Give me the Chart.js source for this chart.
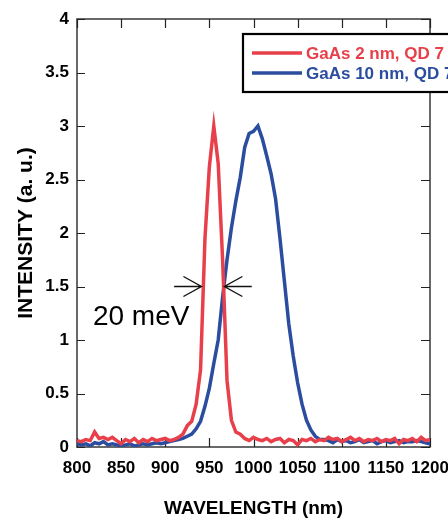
<!DOCTYPE html>
<html>
<head>
<meta charset="utf-8">
<script src="https://cdn.jsdelivr.net/npm/chart.js@4/dist/chart.umd.min.js"></script>
<style>
  html, body { margin: 0; padding: 0; background: #fff; }
  #wrap { width: 448px; height: 522px; }
</style>
</head>
<body>
<div id="wrap"><canvas id="c" width="448" height="522"></canvas></div>
<script>
// ---- data ----
const wavelength = [];
for (let w = 800; w <= 1200; w += 5) wavelength.push(w);

const seriesLabels = ["GaAs 2 nm, QD 7 s", "GaAs 10 nm, QD 7 s"];

const red2nm = [
  0.06, 0.05, 0.07, 0.06, 0.14, 0.08, 0.09, 0.07, 0.09, 0.06,
  0.03, 0.07, 0.05, 0.08, 0.04, 0.07, 0.05, 0.08, 0.06, 0.07,
  0.08, 0.06, 0.07, 0.09, 0.12, 0.20, 0.24, 0.40, 0.72, 1.95,
  2.62, 3.00, 2.65, 1.75, 0.62, 0.25, 0.14, 0.12, 0.08, 0.06,
  0.09, 0.07, 0.06, 0.08, 0.05, 0.07, 0.08, 0.04, 0.07, 0.06,
  0.02, 0.07, 0.06, 0.08, 0.05, 0.07, 0.06, 0.09, 0.07, 0.08,
  0.05, 0.07, 0.09, 0.06, 0.08, 0.05, 0.07, 0.06, 0.08, 0.05,
  0.07, 0.06, 0.08, 0.03, 0.07, 0.06, 0.08, 0.05, 0.09, 0.06,
  0.07
];

const blue10nm = [
  0.03, 0.02, 0.03, 0.01, 0.04, 0.03, 0.05, 0.02, 0.03, 0.02,
  0.01, 0.02, 0.03, 0.01, 0.02, 0.03, 0.02, 0.03, 0.04, 0.03,
  0.04, 0.05, 0.06, 0.07, 0.08, 0.10, 0.12, 0.17, 0.24, 0.38,
  0.55, 0.78, 1.00, 1.40, 1.75, 2.05, 2.30, 2.52, 2.80, 2.93,
  2.95, 3.00, 2.88, 2.72, 2.55, 2.32, 1.95, 1.55, 1.15, 0.85,
  0.60, 0.40, 0.25, 0.16, 0.10, 0.07, 0.07, 0.06, 0.04, 0.07,
  0.05, 0.06, 0.04, 0.05, 0.07, 0.04, 0.05, 0.06, 0.03, 0.05,
  0.06, 0.04, 0.05, 0.06, 0.04, 0.05, 0.05, 0.06, 0.05, 0.04,
  0.03
];

const xTicks = [800, 850, 900, 950, 1000, 1050, 1100, 1150, 1200];
const yTicks = [0, 0.5, 1, 1.5, 2, 2.5, 3, 3.5, 4];

const annotationText = "20 meV";
const fwhmLevel = 1.5;
const fwhmLeft = [910, 941];   // arrow tail -> head (nm)
const fwhmRight = [998, 967];  // arrow tail -> head (nm)
const textAnchor = [818, 1.14];

// ---- styles ----
const RED = "#e8404a";
const BLUE = "#2b4d9f";
const FONT = "'Liberation Sans', Arial, sans-serif";

const pts = (ys) => wavelength.map((x, i) => ({x, y: ys[i]}));

const framePlugin = {
  id: "frame",
  beforeDatasetsDraw(chart) {
    const {ctx, chartArea: a, scales: {x, y}} = chart;
    ctx.save();
    ctx.strokeStyle = "#444";
    ctx.lineWidth = 1.6;
    ctx.strokeRect(a.left, a.top, a.right - a.left, a.bottom - a.top);
    ctx.strokeStyle = "#222";
    ctx.lineWidth = 1.2;
    ctx.beginPath();
    xTicks.forEach(v => {
      const px = Math.round(x.getPixelForValue(v)) + 0.5;
      ctx.moveTo(px, a.bottom); ctx.lineTo(px, a.bottom - 9);
      ctx.moveTo(px, a.top); ctx.lineTo(px, a.top + 9);
    });
    yTicks.forEach(v => {
      const py = Math.round(y.getPixelForValue(v)) + 0.5;
      ctx.moveTo(a.left, py); ctx.lineTo(a.left + 8, py);
      ctx.moveTo(a.right, py); ctx.lineTo(a.right - 9, py);
    });
    ctx.stroke();
    ctx.restore();
  },
  afterDatasetsDraw(chart) {
    const {ctx, scales: {x, y}} = chart;
    ctx.save();
    // FWHM arrows
    ctx.strokeStyle = "#111";
    ctx.lineWidth = 1.4;
    const py = y.getPixelForValue(fwhmLevel);
    [fwhmLeft, fwhmRight].forEach(([t, h]) => {
      const tx = x.getPixelForValue(t), hx = x.getPixelForValue(h);
      const dir = hx > tx ? 1 : -1;
      ctx.beginPath();
      ctx.moveTo(tx, py); ctx.lineTo(hx, py);
      ctx.moveTo(hx - dir * 18, py - 10); ctx.lineTo(hx, py); ctx.lineTo(hx - dir * 18, py + 10);
      ctx.stroke();
    });
    ctx.fillStyle = "#000";
    ctx.font = "28px " + FONT;
    ctx.textBaseline = "alphabetic";
    ctx.textAlign = "left";
    ctx.fillText(annotationText, x.getPixelForValue(textAnchor[0]), y.getPixelForValue(textAnchor[1]));

    // legend box
    const bx = 243, by = 34, bh = 58;
    ctx.fillStyle = "#fff";
    ctx.fillRect(bx, by, 260, bh);
    ctx.strokeStyle = "#000";
    ctx.lineWidth = 2.2;
    ctx.strokeRect(bx, by, 260, bh);
    chart.data.datasets.forEach((ds, i) => {
      const ly = 53 + i * 20;
      ctx.strokeStyle = ds.borderColor;
      ctx.lineWidth = 3.5;
      ctx.beginPath(); ctx.moveTo(252, ly); ctx.lineTo(302, ly); ctx.stroke();
      ctx.fillStyle = ds.borderColor;
      ctx.font = "bold 17px " + FONT;
      ctx.textBaseline = "middle";
      ctx.fillText(ds.label, 306, ly + 1);
    });
    ctx.restore();
  }
};

new Chart(document.getElementById("c"), {
  type: "line",
  data: {
    datasets: [
      {label: seriesLabels[0], data: pts(red2nm), borderColor: RED, borderWidth: 3.5, pointRadius: 0, tension: 0},
      {label: seriesLabels[1], data: pts(blue10nm), borderColor: BLUE, borderWidth: 3.5, pointRadius: 0, tension: 0}
    ]
  },
  options: {
    responsive: false,
    animation: false,
    layout: {padding: {top: 19, right: 18, left: 0, bottom: 0}},
    plugins: {legend: {display: false}, tooltip: {enabled: false}},
    scales: {
      x: {
        type: "linear", min: 800, max: 1200,
        afterBuildTicks(s) { s.ticks = xTicks.map(v => ({value: v})); },
        afterFit(s) { s.height = 75; s.paddingLeft = 0; s.paddingRight = 0; },
        grid: {display: false, drawTicks: false},
        border: {display: false},
        ticks: {padding: 11, color: "#000", font: {family: FONT, size: 17, weight: "bold"}, callback: v => String(v), maxRotation: 0, autoSkip: false},
        title: {display: true, text: "WAVELENGTH (nm)", color: "#000", font: {family: FONT, size: 19, weight: "bold"}, padding: {top: 0, bottom: 2}}
      },
      y: {
        type: "linear", min: 0, max: 4,
        afterBuildTicks(s) { s.ticks = yTicks.map(v => ({value: v})); },
        afterFit(s) { s.width = 77; s.paddingTop = 0; s.paddingBottom = 0; },
        grid: {display: false, drawTicks: false},
        border: {display: false},
        ticks: {padding: 8, color: "#000", font: {family: FONT, size: 17, weight: "bold"}, callback: v => String(v), autoSkip: false},
        title: {display: true, text: "INTENSITY (a. u.)", color: "#000", font: {family: FONT, size: 21, weight: "bold"}, padding: {top: 14, bottom: 0}}
      }
    }
  },
  plugins: [framePlugin]
});
</script>
</body>
</html>
